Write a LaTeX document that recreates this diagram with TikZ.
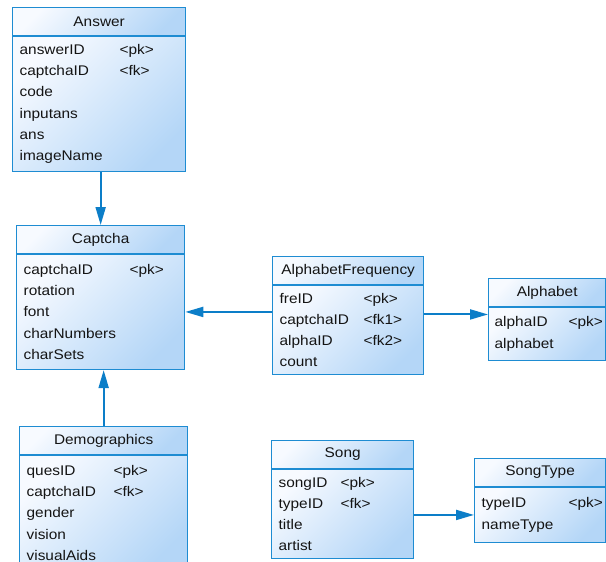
\documentclass[tikz,border=0pt]{standalone}
\usepackage{fontspec}
\setmainfont{Liberation Sans}[FakeStretch=1.1]
\usetikzlibrary{arrows.meta,positioning}
\definecolor{tblborder}{RGB}{30,140,210}
\definecolor{tbllight}{RGB}{247,250,255}
\definecolor{tbldark}{RGB}{180,214,247}
\definecolor{linkblue}{RGB}{12,126,200}
\definecolor{tbltext}{RGB}{20,20,20}
\newcommand{\fld}[2]{\makebox[#1][l]{#2}}

\begin{document}
\begin{tikzpicture}[
    x=1pt, y=-1pt,
    ermhead/.style={draw=tblborder, line width=1.3pt, top color=tbllight, bottom color=tbldark, shading angle=45,
      anchor=north west, minimum height=27.5pt, inner sep=0pt, font=\fontsize{14}{21.3}\selectfont, text=tbltext},
    ermbody/.style={draw=tblborder, line width=1.3pt, top color=tbllight, bottom color=tbldark, shading angle=45,
      inner xsep=7pt, inner ysep=0pt, align=left, font=\fontsize{14}{21.3}\selectfont, text=tbltext},
    arr/.style={-{Triangle[length=18pt,width=10pt]}, line width=2pt, draw=linkblue}
  ]
  \useasboundingbox (0,0) rectangle (606,562);
  \clip (0,0) rectangle (606,562);

  % tables
  \node[ermhead, minimum width=173pt] (answer) at (12,7) {Answer};
  \node[ermbody, text width=159pt, minimum height=135pt, below=0pt of answer] (answerb)
    {\fld{100pt}{answerID}<pk>\\\fld{100pt}{captchaID}<fk>\\code\\inputans\\ans\\imageName};

  \node[ermhead, minimum width=168pt] (captcha) at (16,225) {Captcha};
  \node[ermbody, text width=154pt, minimum height=115pt, below=0pt of captcha] (captchab)
    {\fld{106pt}{captchaID}<pk>\\rotation\\font\\charNumbers\\charSets};

  \node[ermhead, minimum width=168pt] (demo) at (19,426) {Demographics};
  \node[ermbody, text width=154pt, minimum height=115pt, below=0pt of demo] (demob)
    {\fld{87pt}{quesID}<pk>\\\fld{87pt}{captchaID}<fk>\\gender\\vision\\visualAids};

  \node[ermhead, minimum width=151pt] (afreq) at (272,256) {AlphabetFrequency};
  \node[ermbody, text width=137pt, minimum height=89pt, below=0pt of afreq] (afreqb)
    {\fld{84pt}{freID}<pk>\\\fld{84pt}{captchaID}<fk1>\\\fld{84pt}{alphaID}<fk2>\\count};

  \node[ermhead, minimum width=117pt] (alpha) at (488,278) {Alphabet};
  \node[ermbody, inner xsep=6pt, text width=105pt, minimum height=53pt, below=0pt of alpha] (alphab)
    {\fld{74pt}{alphaID}<pk>\\alphabet};

  \node[ermhead, minimum width=142pt] (song) at (271,440) {Song};
  \node[ermbody, text width=128pt, minimum height=89pt, below=0pt of song] (songb)
    {\fld{62pt}{songID}<pk>\\\fld{62pt}{typeID}<fk>\\title\\artist};

  \node[ermhead, minimum width=131pt] (songtype) at (474,458) {SongType};
  \node[ermbody, text width=117pt, minimum height=55pt, below=0pt of songtype] (songtypeb)
    {\fld{87pt}{typeID}<pk>\\nameType};

  % references
  \coordinate (afout) at ([yshift=15.5pt]afreqb.east);
  \draw[arr] (answerb.south -| captcha.north) -- (captcha.north);
  \draw[arr] (afreqb.west |- captchab.east) -- (captchab.east);
  \draw[arr] (demo.north) -- (demo.north |- captchab.south);
  \draw[arr] (afout) -- (afout -| alphab.west);
  \draw[arr] (songb.east |- songtypeb.west) -- (songtypeb.west);
\end{tikzpicture}
\end{document}
